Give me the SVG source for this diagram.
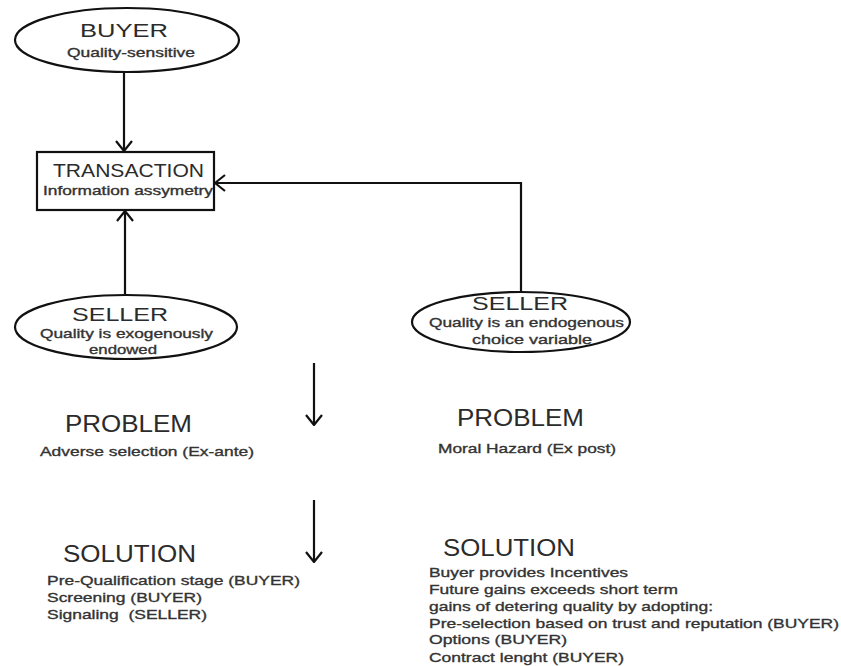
<svg xmlns="http://www.w3.org/2000/svg" width="841" height="666" viewBox="0 0 841 666">
<style>
text{font-family:"Liberation Sans",Arial,sans-serif;fill:#2b2b2b}
.t{font-size:19px}
.s{font-size:13px;fill:#333;stroke:#333;stroke-width:0.35}
.h{font-size:24px}
.b{font-size:13.5px;fill:#333;stroke:#333;stroke-width:0.35}
.shape{fill:#fff;stroke:#111;stroke-width:2.2}
.edge{fill:none;stroke:#111;stroke-width:2.2}
</style>
<defs>
<marker id="arr" viewBox="0 0 12 18" refX="11" refY="9" markerWidth="12" markerHeight="18" markerUnits="userSpaceOnUse" orient="auto">
<path d="M1,1 L11,9 L1,17" fill="none" stroke="#111" stroke-width="2.2"/>
</marker>
</defs>
<rect width="841" height="666" fill="#fff"/>
<g id="connectors">
<line class="edge" x1="124" y1="72" x2="124" y2="151" marker-end="url(#arr)"/>
<line class="edge" x1="125" y1="295" x2="125" y2="211" marker-end="url(#arr)"/>
<polyline class="edge" points="521,292 521,183 215,183" marker-end="url(#arr)"/>
<line class="edge" x1="314" y1="363" x2="314" y2="425" marker-end="url(#arr)"/>
<line class="edge" x1="314" y1="500" x2="314" y2="562" marker-end="url(#arr)"/>
</g>
<g id="buyer">
<ellipse class="shape" cx="127" cy="40" rx="112" ry="32"/>
<text class="t" x="80" y="37" textLength="88" lengthAdjust="spacingAndGlyphs">BUYER</text>
<text class="s" x="67" y="57" textLength="128" lengthAdjust="spacingAndGlyphs">Quality-sensitive</text>
</g>
<g id="transaction">
<rect class="shape" x="37" y="152" width="177" height="58"/>
<text class="t" x="53" y="177" textLength="151" lengthAdjust="spacingAndGlyphs">TRANSACTION</text>
<text class="s" x="43" y="195" textLength="170" lengthAdjust="spacingAndGlyphs">Information assymetry</text>
</g>
<g id="seller-left">
<ellipse class="shape" cx="126" cy="327" rx="111" ry="32"/>
<text class="t" x="72" y="321" textLength="96" lengthAdjust="spacingAndGlyphs">SELLER</text>
<text class="s" x="40" y="338" textLength="173" lengthAdjust="spacingAndGlyphs">Quality is exogenously</text>
<text class="s" x="89" y="354" textLength="68" lengthAdjust="spacingAndGlyphs">endowed</text>
</g>
<g id="seller-right">
<ellipse class="shape" cx="521" cy="322" rx="109" ry="30"/>
<text class="t" x="472" y="310" textLength="96" lengthAdjust="spacingAndGlyphs">SELLER</text>
<text class="s" x="429" y="327" textLength="195" lengthAdjust="spacingAndGlyphs">Quality is an endogenous</text>
<text class="s" x="472" y="344" textLength="120" lengthAdjust="spacingAndGlyphs">choice variable</text>
</g>
<g id="problem-left">
<text class="h" x="65" y="432" textLength="127" lengthAdjust="spacingAndGlyphs">PROBLEM</text>
<text class="b" x="40" y="456" textLength="214" lengthAdjust="spacingAndGlyphs">Adverse selection (Ex-ante)</text>
</g>
<g id="problem-right">
<text class="h" x="457" y="426" textLength="127" lengthAdjust="spacingAndGlyphs">PROBLEM</text>
<text class="b" x="438" y="453" textLength="178" lengthAdjust="spacingAndGlyphs">Moral Hazard (Ex post)</text>
</g>
<g id="solution-left">
<text class="h" x="63" y="562" textLength="133" lengthAdjust="spacingAndGlyphs">SOLUTION</text>
<text class="b" x="47" y="585" textLength="253" lengthAdjust="spacingAndGlyphs">Pre-Qualification stage (BUYER)</text>
<text class="b" x="47" y="602" textLength="155" lengthAdjust="spacingAndGlyphs">Screening (BUYER)</text>
<text class="b" x="47" y="619" textLength="160" lengthAdjust="spacingAndGlyphs" xml:space="preserve">Signaling  (SELLER)</text>
</g>
<g id="solution-right">
<text class="h" x="443" y="556" textLength="132" lengthAdjust="spacingAndGlyphs">SOLUTION</text>
<text class="b" x="429" y="577" textLength="199" lengthAdjust="spacingAndGlyphs">Buyer provides Incentives</text>
<text class="b" x="429" y="594" textLength="249" lengthAdjust="spacingAndGlyphs">Future gains exceeds short term</text>
<text class="b" x="429" y="611" textLength="284" lengthAdjust="spacingAndGlyphs">gains of detering quality by adopting:</text>
<text class="b" x="429" y="628" textLength="410" lengthAdjust="spacingAndGlyphs">Pre-selection based on trust and reputation (BUYER)</text>
<text class="b" x="429" y="644" textLength="138" lengthAdjust="spacingAndGlyphs">Options (BUYER)</text>
<text class="b" x="429" y="662" textLength="195" lengthAdjust="spacingAndGlyphs">Contract lenght (BUYER)</text>
</g>
</svg>
